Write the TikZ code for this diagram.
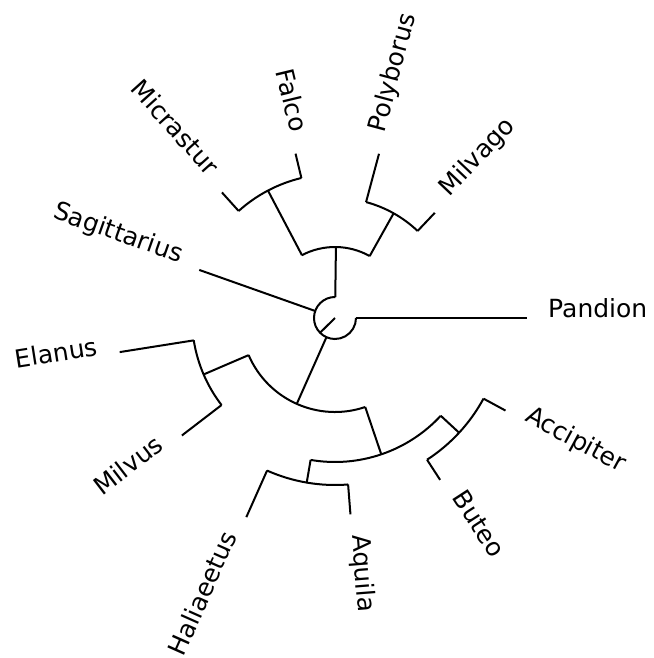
\documentclass[tikz,border=0pt]{standalone}
\usepackage{fontspec}
\setmainfont{DejaVu Sans}
\usetikzlibrary{positioning}
\tikzset{
  branch/.style={line width=2pt, black},
  taxon/.style={inner sep=0pt, font=\fontsize{25}{30}\selectfont},
}
\begin{document}
\begin{tikzpicture}
\useasboundingbox (-335pt,-340pt) rectangle (318pt,318pt);

% Root stem and root arc
\coordinate (root0) at (0,0);
\coordinate (root) at (224.6:21pt);
\draw[branch] (root0) -- (root);
\draw[branch] (89.25:21pt) arc[start angle=89.25, end angle=360, radius=21pt];

% Inner clades: name/angle/radius/parent radius
\foreach \n/\a/\r/\p in {falc/89.25/71/21, mp/60.75/120/71, fm/117.75/144/71,
    accp/246/94/21, em/203.25/143/94, hab/288.75/144/94, ha/260.25/167/144, ba/317.25/169/144} {
  \coordinate (\n-in) at (\a:\p*1pt);
  \coordinate (\n) at (\a:\r*1pt);
  \draw[branch] (\n-in) -- (\n);
}

% Clade arcs: name/start/end/radius
\foreach \n/\s/\e/\r in {falc/60.75/117.75/71, mp/46.5/75/120, fm/103.5/132/144,
    accp/203.25/288.75/94, em/189/217.5/143, hab/260.25/317.25/144, ha/246/274.5/167, ba/303/331.5/169} {
  \draw[branch] (\s:\r*1pt) arc[start angle=\s, end angle=\e, radius=\r*1pt];
}

% Leaves on the right: name/angle/base/tip
\foreach \n/\a/\b/\t in {Milvago/46.5/120/145, Polyborus/75/120/170, Aquila/274.5/167/197,
    Buteo/303/169/193, Accipiter/331.5/169/194, Pandion/0/21/192} {
  \coordinate (\n-base) at (\a:\b*1pt);
  \coordinate (\n-tip) at (\a:\t*1pt);
  \draw[branch] (\n-base) -- (\n-tip);
  \node[taxon, rotate=\a, anchor=base west] (lab-\n) at (\a:\t*1pt+21pt) {\n};
}

% Leaves on the left
\foreach \n/\a/\b/\t in {Falco/103.5/144/169, Micrastur/132/144/169, Sagittarius/160.5/21/144,
    Elanus/189/143/218, Milvus/217.5/143/193, Haliaeetus/246/167/218} {
  \coordinate (\n-base) at (\a:\b*1pt);
  \coordinate (\n-tip) at (\a:\t*1pt);
  \draw[branch] (\n-base) -- (\n-tip);
  \node[taxon, rotate=\a-180, anchor=base east] (lab-\n) at (\a:\t*1pt+21pt) {\n};
}
\end{tikzpicture}
\end{document}
